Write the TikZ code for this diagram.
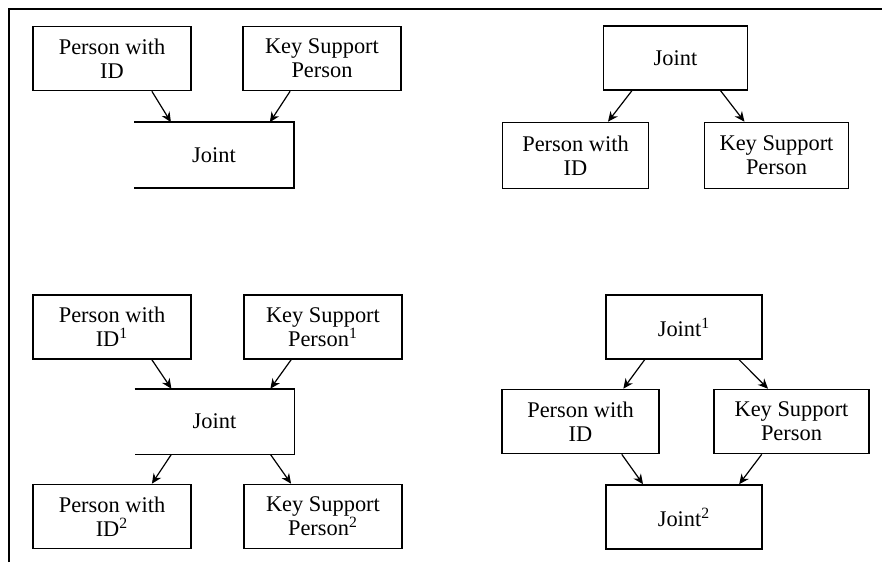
\documentclass[tikz,border=0pt]{standalone}
\usepackage{fontspec}
\setmainfont{Liberation Serif}
\usetikzlibrary{arrows.meta,calc}
\tikzset{
	box/.style={draw, line width=0.8pt, inner sep=0pt, minimum width=79pt, minimum height=32pt,
		align=center, font=\fontsize{11.2}{12}\selectfont},
	openbox/.style={box, draw=none},
	link/.style={-{Stealth[length=5pt,width=4.5pt]}, line width=0.6pt},
}
\begin{document}
\begin{tikzpicture}[x=0.5pt,y=-0.5pt]
	\useasboundingbox (0,0) rectangle (882,562);
	\draw[line width=1pt] (9,562) -- (9,9) -- (882,9);
	% top left
	\node[box] (pidA) at (112,58.5) {Person with\\ID};
	\node[box] (ksA) at (322,58.5) {Key Support\\Person};
	\node[openbox] (jA) at (214,155) {Joint};
	\draw[line width=0.8pt] (jA.north west) -- (jA.north east) -- (jA.south east) -- (jA.south west);
	\draw[link] ($(pidA.south west)!0.75!(pidA.south east)$) -- ($(jA.north west)!0.23!(jA.north east)$);
	\draw[link] ($(ksA.south west)!0.3!(ksA.south east)$) -- ($(jA.north west)!0.85!(jA.north east)$);
	% top right
	\node[box, minimum width=72pt] (jB) at (675.5,58) {Joint};
	\node[box, minimum width=73pt, minimum height=33pt] (pidB) at (575.5,155.5) {Person with\\ID};
	\node[box, minimum width=72pt, minimum height=33pt] (ksB) at (776.5,155.5) {Key Support\\Person};
	\draw[link] ($(jB.south west)!0.2!(jB.south east)$) -- ($(pidB.north west)!0.72!(pidB.north east)$);
	\draw[link] ($(jB.south west)!0.81!(jB.south east)$) -- ($(ksB.north west)!0.28!(ksB.north east)$);
	% bottom left
	\node[box] (pidC) at (112,327) {Person with\\ID\textsuperscript{1}};
	\node[box] (ksC) at (323,327) {Key Support\\Person\textsuperscript{1}};
	\node[openbox] (jC) at (214.5,421.5) {Joint};
	\draw[line width=0.8pt] (jC.north west) -- (jC.north east) -- (jC.south east) -- (jC.south west);
	\node[box] (pidE) at (112,516.5) {Person with\\ID\textsuperscript{2}};
	\node[box] (ksE) at (323,516.5) {Key Support\\Person\textsuperscript{2}};
	\draw[link] ($(pidC.south west)!0.75!(pidC.south east)$) -- ($(jC.north west)!0.23!(jC.north east)$);
	\draw[link] ($(ksC.south west)!0.3!(ksC.south east)$) -- ($(jC.north west)!0.85!(jC.north east)$);
	\draw[link] ($(jC.south west)!0.23!(jC.south east)$) -- ($(pidE.north west)!0.75!(pidE.north east)$);
	\draw[link] ($(jC.south west)!0.85!(jC.south east)$) -- ($(ksE.north west)!0.3!(ksE.north east)$);
	% bottom right
	\node[box, minimum width=78pt] (jD) at (684,327) {Joint\textsuperscript{1}};
	\node[box, minimum width=78.5pt] (pidD) at (580.5,421.5) {Person with\\ID};
	\node[box, minimum width=77.5pt] (ksD) at (791.5,421.5) {Key Support\\Person};
	\node[box, minimum width=78pt] (jF) at (684,517) {Joint\textsuperscript{2}};
	\draw[link] ($(jD.south west)!0.25!(jD.south east)$) -- ($(pidD.north west)!0.77!(pidD.north east)$);
	\draw[link] ($(jD.south west)!0.85!(jD.south east)$) -- ($(ksD.north west)!0.35!(ksD.north east)$);
	\draw[link] ($(pidD.south west)!0.76!(pidD.south east)$) -- ($(jF.north west)!0.24!(jF.north east)$);
	\draw[link] ($(ksD.south west)!0.31!(ksD.south east)$) -- ($(jF.north west)!0.85!(jF.north east)$);
\end{tikzpicture}
\end{document}
